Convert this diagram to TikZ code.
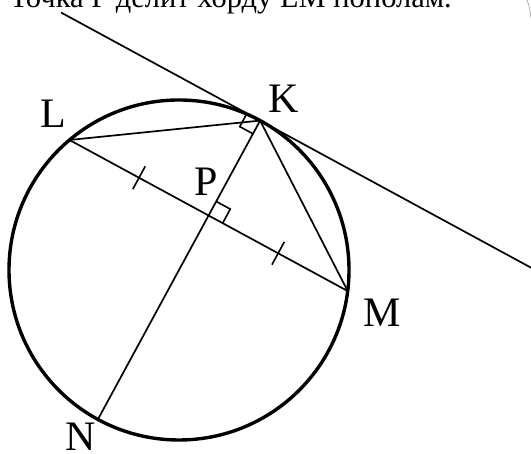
\documentclass[tikz,border=0pt]{standalone}
\usepackage{fontspec}
\setmainfont{Liberation Serif}
\usetikzlibrary{calc}
\begin{document}
\begin{tikzpicture}[x=1pt,y=1pt,
  seg/.style={line width=1.7pt, line cap=round, line join=round},
  circ/.style={line width=3.4pt},
  tickline/.style={line width=1.6pt, line join=miter},
  lbl/.style={inner sep=0pt, font=\fontsize{42}{42}\selectfont},
  titletext/.style={inner sep=0pt, anchor=base east, font=\fontsize{30.5}{30.5}\selectfont},
]
\useasboundingbox (0,0) rectangle (531,454);
\clip (0,0) rectangle (531,454);
% geometry
\coordinate (O) at (179,184);
\coordinate (K) at ($(O)+(61.5:170)$);
\coordinate (N) at ($(O)+(241.5:170)$);
\coordinate (P) at ($(O)+(61.5:62)$);
\coordinate (L) at ($(P)+(151.5:158.3)$);
\coordinate (M) at ($(P)+(-28.5:158.3)$);
\coordinate (T1) at ($(K)+(151.5:226)$);
\coordinate (T2) at ($(K)+(-28.5:312)$);
% circle
\draw[circ] (O) circle[radius=170];
% tangent
\draw[seg] (T1) -- (T2);
% chords
\draw[seg] (L) -- (M);
\draw[seg] (K) -- (N);
\draw[seg] (L) -- (K);
\draw[seg] (K) -- (M);
% right angle marks
\coordinate (ka) at ($(K)+(151.5:15)$);
\coordinate (kb) at ($(K)+(241.5:15)$);
\coordinate (kc) at ($(K)+(151.5:15)+(241.5:15)$);
\draw[tickline] (ka) -- (kc) -- (kb);
\coordinate (pa) at ($(P)+(61.5:16)$);
\coordinate (pb) at ($(P)+(-28.5:16)$);
\coordinate (pc) at ($(P)+(61.5:16)+(-28.5:16)$);
\draw[tickline] (pa) -- (pc) -- (pb);
% ticks
\coordinate (m1) at ($(L)!0.5!(P)$);
\coordinate (m2) at ($(P)!0.5!(M)$);
\coordinate (m1a) at ($(m1)+(61.5:13)$);
\coordinate (m1b) at ($(m1)+(241.5:13)$);
\coordinate (m2a) at ($(m2)+(61.5:13)$);
\coordinate (m2b) at ($(m2)+(241.5:13)$);
\draw[tickline] (m1a) -- (m1b);
\draw[tickline] (m2a) -- (m2b);
% labels
\node[lbl] (labK) at (284,355) {K};
\node[lbl] (labL) at (53,340) {L};
\node[lbl] (labP) at (206,272) {P};
\node[lbl] (labM) at (382,141) {M};
\node[lbl] (labN) at (81,17) {N};
% cropped text line at the top
\node[titletext] (title) at (452,446.5) {Точка P делит хорду LM пополам.};
% fragment of a neighbouring figure at the right edge
\coordinate (g1) at (527,454);
\coordinate (g2) at (531,436);
\draw[gray!70, line width=0.7pt] (g1) to[bend left=8] (g2);
\end{tikzpicture}
\end{document}
